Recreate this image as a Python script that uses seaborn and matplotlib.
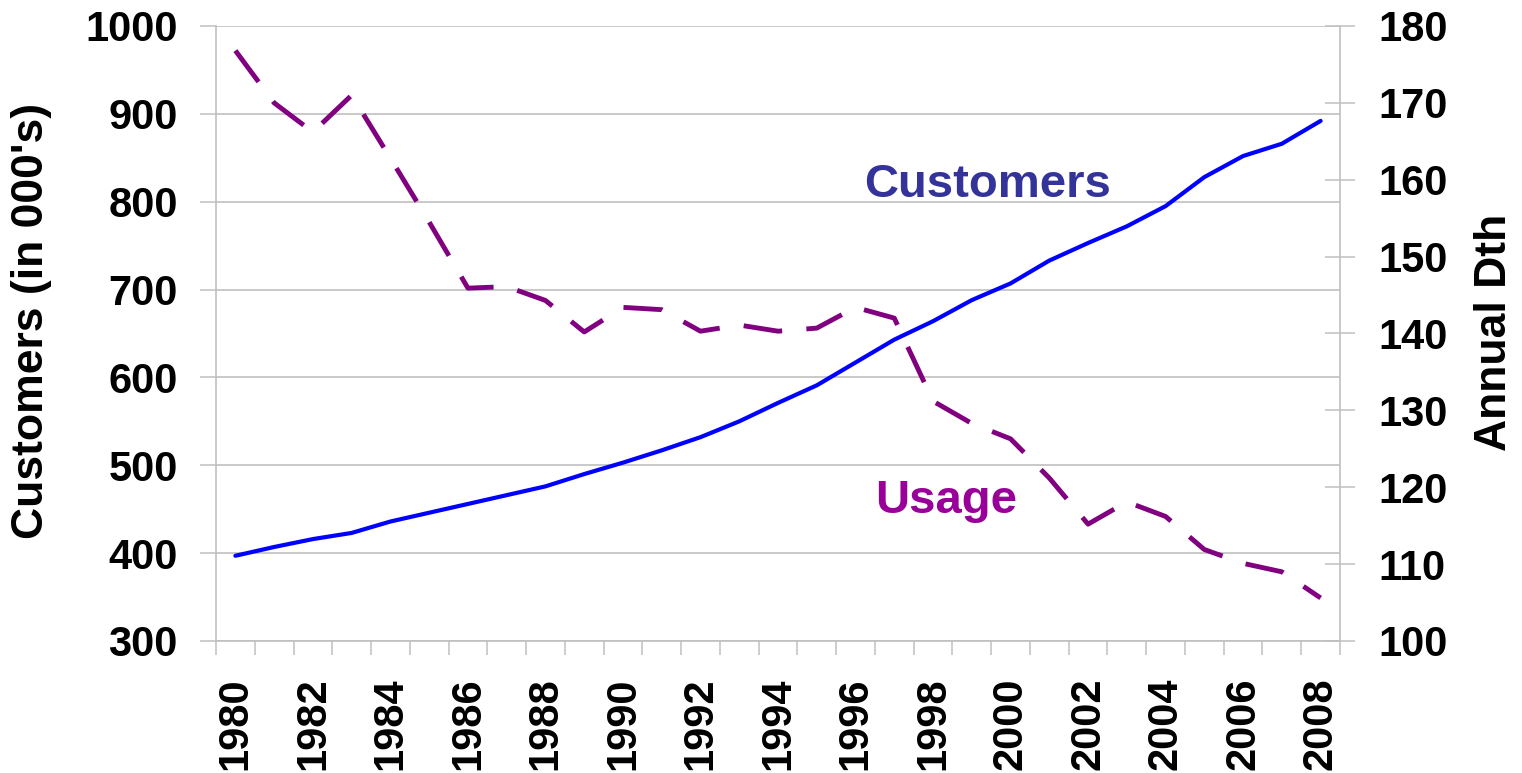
import matplotlib
matplotlib.use("Agg")
import matplotlib.pyplot as plt
import seaborn as sns
import numpy as np
import pandas as pd

# values
years = list(range(1980, 2009))
customers = [397, 407, 416, 423, 436, 446, 456, 466, 476, 490,
             503, 517, 532, 550, 571, 591, 617, 643, 664, 688,
             707, 733, 753, 772, 795, 828, 852, 866, 892]
usage = [176.8, 170.0, 166.2, 171.0, 162.8, 154.5, 145.9, 146.1, 144.3, 140.2,
         143.4, 143.1, 140.3, 141.1, 140.3, 140.7, 143.4, 142.0, 131.2, 128.3,
         126.3, 121.2, 115.2, 118.1, 116.2, 111.9, 110.1, 109.0, 105.6]
left_ticks = [300, 400, 500, 600, 700, 800, 900, 1000]
right_ticks = [100, 110, 120, 130, 140, 150, 160, 170, 180]
year_labels = [y for y in years if y % 2 == 0]

df = pd.DataFrame({"year": years, "customers": customers, "usage": usage})

sns.set_theme(style="white")
plt.rcParams["font.family"] = ["Liberation Sans", "DejaVu Sans"]
plt.rcParams["font.weight"] = "bold"
plt.rcParams["text.color"] = "black"

grid_col = "#C0C0C0"
W, H = 1522, 773
fig = plt.figure(figsize=(W / 100, H / 100), dpi=100)
ax = fig.add_axes([216 / W, 1 - 641 / H, 1124 / W, 615 / H])
ax2 = ax.twinx()

# customers on the left axis
sns.lineplot(data=df, x="year", y="customers", ax=ax, color="#0000FF",
             linewidth=3, errorbar=None)
# usage on the right axis, long dashes
sns.lineplot(data=df, x="year", y="usage", ax=ax2, color="#800080",
             linewidth=3.5, linestyle=(0, (8, 5)), errorbar=None)

ax.set_xlim(1979.5, 2008.5)
ax.set_ylim(300, 1000)
ax2.set_ylim(100, 180)

ax.set_yticks(left_ticks)
ax2.set_yticks(right_ticks)
ax.set_xticks(year_labels)
ax.set_xticklabels([str(y) for y in year_labels], rotation=90)
ax.set_xticks(np.arange(1979.5, 2009, 1), minor=True)

ax.grid(axis="y", color=grid_col, linewidth=1.2)
ax.grid(axis="x", visible=False)

ax.tick_params(axis="y", which="major", labelsize=30, length=11.5, width=1.1,
               color=grid_col, labelcolor="black", direction="out", pad=16,
               left=True)
ax.tick_params(axis="x", which="major", labelsize=30, length=0, pad=26,
               labelcolor="black")
ax.tick_params(axis="x", which="minor", length=10, width=1.1,
               color=grid_col, direction="out", bottom=True)
ax2.tick_params(axis="y", which="major", labelsize=30, length=21, width=1.1,
                color=grid_col, labelcolor="black", direction="inout", pad=17,
                right=True)

for s in ["top", "right"]:
    ax.spines[s].set_visible(False)
for s in ["left", "bottom"]:
    ax.spines[s].set_color(grid_col)
    ax.spines[s].set_linewidth(1.2)
for s in ["top", "left", "bottom"]:
    ax2.spines[s].set_visible(False)
ax2.spines["right"].set_color(grid_col)
ax2.spines["right"].set_linewidth(1.2)

ax.set_xlabel("")
ax.set_ylabel("")
ax2.set_ylabel("")

fig.text(32 / W, 1 - 321 / H, "Customers (in 000's)", rotation=90,
         ha="center", va="center", fontsize=32, fontweight="bold",
         color="black")
fig.text(1495 / W, 1 - 332 / H, "Annual Dth", rotation=90,
         ha="center", va="center", fontsize=32, fontweight="bold",
         color="black")

# series labels inside the plot
ax.text(1999.4, 805, "Customers", color="#333399", fontsize=34,
        fontweight="bold", ha="center", va="baseline")
ax.text(1998.33, 446, "Usage", color="#990099", fontsize=34,
        fontweight="bold", ha="center", va="baseline")

fig.savefig("out.png", dpi=100)
